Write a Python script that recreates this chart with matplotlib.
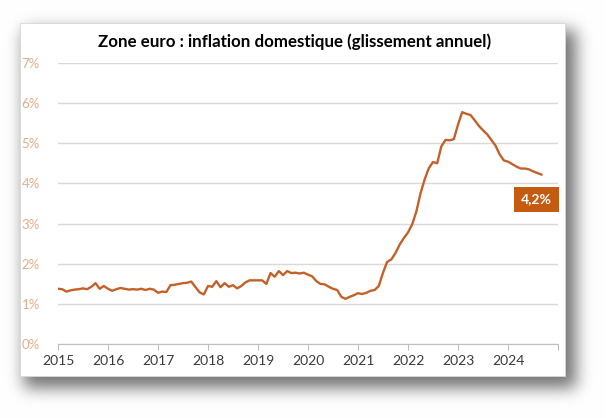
import numpy as np
import matplotlib
matplotlib.use('Agg')
import matplotlib.pyplot as plt
from matplotlib.patches import Rectangle

# ---------------- data ----------------
start_year = 2015
values_2015 = [1.38, 1.37, 1.31, 1.34, 1.36, 1.37, 1.39, 1.37, 1.43, 1.52, 1.38, 1.45]
values_2016 = [1.38, 1.33, 1.37, 1.40, 1.38, 1.36, 1.37, 1.36, 1.38, 1.35, 1.38, 1.36]
values_2017 = [1.28, 1.31, 1.30, 1.47, 1.48, 1.50, 1.52, 1.53, 1.56, 1.42, 1.29, 1.24]
values_2018 = [1.45, 1.43, 1.57, 1.42, 1.52, 1.43, 1.47, 1.39, 1.45, 1.54, 1.59, 1.59]
values_2019 = [1.59, 1.59, 1.50, 1.77, 1.68, 1.82, 1.72, 1.82, 1.77, 1.78, 1.76, 1.78]
values_2020 = [1.73, 1.69, 1.57, 1.50, 1.49, 1.43, 1.38, 1.35, 1.18, 1.13, 1.18, 1.22]
values_2021 = [1.27, 1.25, 1.28, 1.33, 1.35, 1.45, 1.78, 2.05, 2.11, 2.27, 2.48, 2.64]
values_2022 = [2.78, 2.98, 3.30, 3.75, 4.10, 4.38, 4.53, 4.50, 4.92, 5.08, 5.07, 5.10]
values_2023 = [5.46, 5.77, 5.73, 5.70, 5.57, 5.43, 5.32, 5.22, 5.08, 4.94, 4.72, 4.57]
values_2024 = [4.54, 4.48, 4.42, 4.37, 4.37, 4.35, 4.30, 4.26, 4.22]

values = (values_2015 + values_2016 + values_2017 + values_2018 + values_2019
          + values_2020 + values_2021 + values_2022 + values_2023 + values_2024)
dates = [start_year + m / 12 for m in range(len(values))]

year_ticks = list(range(2015, 2026))
year_labels = [str(y) for y in range(2015, 2025)] + [""]
ytick_vals = list(range(0, 8))
ytick_labels = [f"{v}%" for v in ytick_vals]
title = "Zone euro : inflation domestique (glissement annuel)"
last_label = f"{values[-1]:.1f}%".replace(".", ",")

# ---------------- style ----------------
FONT = ["Lato", "DejaVu Sans"]
plt.rcParams['font.family'] = FONT
LINE_C = "#C4602A"
BOX_C = "#C55A11"
YLAB_C = "#E0AE8C"
XLAB_C = "#3A3A3A"
GRID_C = "#D9D9D9"

W, H = 607, 418
fig = plt.figure(figsize=(W / 100, H / 100), dpi=100)
fig.patch.set_facecolor("white")

# ---- soft drop shadow behind the card ----
mask = np.zeros((H, W))
mask[30:388, 24:576] = 1.0
sig = 8.0
k = np.exp(-0.5 * (np.arange(-30, 31) / sig) ** 2)
k /= k.sum()
blur = np.apply_along_axis(lambda r: np.convolve(r, k, mode="same"), 1, mask)
blur = np.apply_along_axis(lambda c: np.convolve(c, k, mode="same"), 0, blur)
shade = 1.0 - 0.55 * blur
rgb = np.dstack([shade, shade, shade])
fig.figimage(rgb, xo=0, yo=0, origin="upper", zorder=0)

# ---- card ----
cx0, cx1, cy0, cy1 = 20, 565, 23, 376
card = Rectangle((cx0 / W, 1 - cy1 / H), (cx1 - cx0) / W, (cy1 - cy0) / H,
                 transform=fig.transFigure, facecolor="white",
                 edgecolor="#D8D8D8", linewidth=0.6, zorder=1)
fig.add_artist(card)

# ---- axes ----
ax_l, ax_r, ax_top, ax_bot = 58, 558, 62.7, 344.3
ax = fig.add_axes([ax_l / W, 1 - ax_bot / H, (ax_r - ax_l) / W, (ax_bot - ax_top) / H])
ax.set_zorder(2)
ax.patch.set_alpha(0)

ax.plot(dates, values, color=LINE_C, linewidth=1.7, solid_joinstyle="round", zorder=3)

ax.set_xlim(2015, 2025)
ax.set_ylim(0, 7)
ax.set_yticks(ytick_vals)
ax.set_yticklabels(ytick_labels, color=YLAB_C, fontsize=9.5)
ax.set_xticks(year_ticks)
ax.set_xticklabels(year_labels, color=XLAB_C, fontsize=10)
ax.tick_params(axis="y", length=0, pad=13)
ax.tick_params(axis="x", length=4, width=0.8, color="#BFBFBF", pad=4, direction="out")
ax.grid(axis="y", color=GRID_C, linewidth=1.0)
ax.set_axisbelow(True)
for s in ["top", "right", "left"]:
    ax.spines[s].set_visible(False)
ax.spines["bottom"].set_color("#BFBFBF")
ax.spines["bottom"].set_linewidth(0.8)

# ---- end label ----
ax.annotate(last_label, xy=(dates[-1], values[-1]), xytext=(-5, -25),
            textcoords="offset pixels", ha="center", va="center",
            color="white", fontsize=10, fontweight="bold",
            bbox=dict(boxstyle="square,pad=0.5", facecolor=BOX_C, edgecolor="none"),
            zorder=5)

# ---- title ----
fig.text(295 / W, 1 - 42 / H, title, ha="center", va="center",
         fontsize=12.2, fontweight="bold", color="black", zorder=3)

fig.savefig("out.png", dpi=100, facecolor="white")
